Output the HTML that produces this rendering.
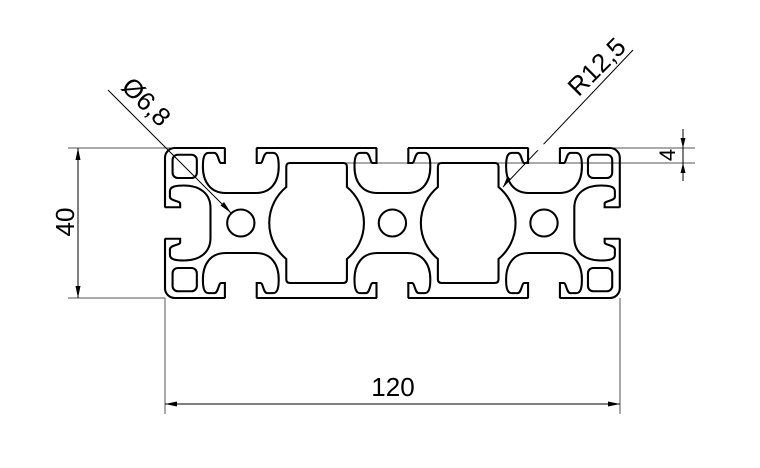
<!DOCTYPE html>
<html><head><meta charset="utf-8"><style>
html,body{margin:0;padding:0;background:#fff;}
svg{display:block;}
text{font-family:"Liberation Sans",Arial,sans-serif;fill:#000;}
</style></head><body>
<svg width="760" height="468" viewBox="0 0 760 468" xmlns="http://www.w3.org/2000/svg">
<defs>
<path id="slot" d="M-4.2,0 V4 H-5.2 C-5.9,4 -5.9,1.3 -7,1.3 H-8.5 C-9.8,1.3 -10,3 -10,5 C-10,9 -8,12 -4,12 H4 C8,12 10,9 10,5 C10,3 9.8,1.3 8.5,1.3 H7 C5.9,1.3 5.9,4 5.2,4 H4.2 V0"/>
<g id="slotw">
<rect x="-4.1" y="-1" width="8.2" height="1.6" fill="#fff" stroke="none"/>
<use href="#slot"/>
</g>
</defs>
<g stroke="#555" stroke-width="1" fill="none">
<line x1="68" y1="148" x2="695" y2="148"/>
<line x1="68" y1="298" x2="165" y2="298"/>
<line x1="287" y1="163" x2="695" y2="163"/>
<line x1="165" y1="298" x2="165" y2="414"/>
<line x1="620" y1="298" x2="620" y2="414"/>
</g>
<g stroke="#000" stroke-width="1" fill="none">
<line x1="78" y1="148" x2="78" y2="298"/>
<line x1="165" y1="404" x2="620" y2="404"/>
<line x1="683" y1="129" x2="683" y2="181"/>
<line x1="108" y1="90" x2="231" y2="213"/>
<line x1="633" y1="50" x2="503" y2="187"/>
</g>
<g fill="#000">
<polygon points="78,148 75.5,160 80.5,160"/>
<polygon points="78,298 75.5,286 80.5,286"/>
<polygon points="165,404 177,401.5 177,406.5"/>
<polygon points="620,404 608,401.5 608,406.5"/>
<polygon points="683,148 680.5,138 685.5,138"/>
<polygon points="683,163 680.5,173 685.5,173"/>
<polygon points="231,213 220.5,205.5 224,202"/>
<polygon points="503,187 507.5,176 511,179.5"/>
</g>
<g transform="translate(165,148) scale(3.79,3.75)" fill="none" stroke="#000">
<rect x="0" y="0" width="120" height="40" rx="2.6" stroke-width="2.1" vector-effect="non-scaling-stroke"/>
</g>
<g transform="translate(165,148) scale(3.79,3.75)" fill="none" stroke="#000" stroke-width="0.55">
<use href="#slotw" transform="translate(20,0)"/>
<use href="#slotw" transform="translate(60,0)"/>
<use href="#slotw" transform="translate(100,0)"/>
<use href="#slotw" transform="translate(20,40) scale(1,-1)"/>
<use href="#slotw" transform="translate(60,40) scale(1,-1)"/>
<use href="#slotw" transform="translate(100,40) scale(1,-1)"/>
<use href="#slotw" transform="matrix(0,1,1,0,0,20)"/>
<use href="#slotw" transform="matrix(0,1,-1,0,120,20)"/>
<rect x="2" y="1.8" width="6.4" height="6.2" rx="1.4"/>
<rect x="111.6" y="1.8" width="6.4" height="6.2" rx="1.4"/>
<rect x="2" y="32" width="6.4" height="6.2" rx="1.4"/>
<rect x="111.6" y="32" width="6.4" height="6.2" rx="1.4"/>
<path d="M33,4 H47 Q48,4 48,5 V10.4 A12.5,12.5 0 0 1 48,29.6 V35 Q48,36 47,36 H33 Q32,36 32,35 V29.6 A12.5,12.5 0 0 1 32,10.4 V5 Q32,4 33,4 Z"/>
<path d="M73,4 H87 Q88,4 88,5 V10.4 A12.5,12.5 0 0 1 88,29.6 V35 Q88,36 87,36 H73 Q72,36 72,35 V29.6 A12.5,12.5 0 0 1 72,10.4 V5 Q72,4 73,4 Z"/>
<ellipse cx="20" cy="20" rx="3.6" ry="3.6"/>
<ellipse cx="60" cy="20" rx="3.6" ry="3.6"/>
<ellipse cx="100" cy="20" rx="3.6" ry="3.6"/>
</g>
<text x="393" y="396" font-size="26" text-anchor="middle">120</text>
<text x="0" y="0" font-size="26" text-anchor="middle" transform="translate(74,222) rotate(-90)">40</text>
<text x="0" y="0" font-size="22" text-anchor="middle" transform="translate(675,155) rotate(-90)">4</text>
<text x="0" y="0" font-size="26" text-anchor="middle" transform="translate(140,108) rotate(45)">Ø6,8</text>
<text x="0" y="0" font-size="26" text-anchor="middle" transform="translate(603,73) rotate(-45)">R12,5</text>
</svg>
</body></html>
